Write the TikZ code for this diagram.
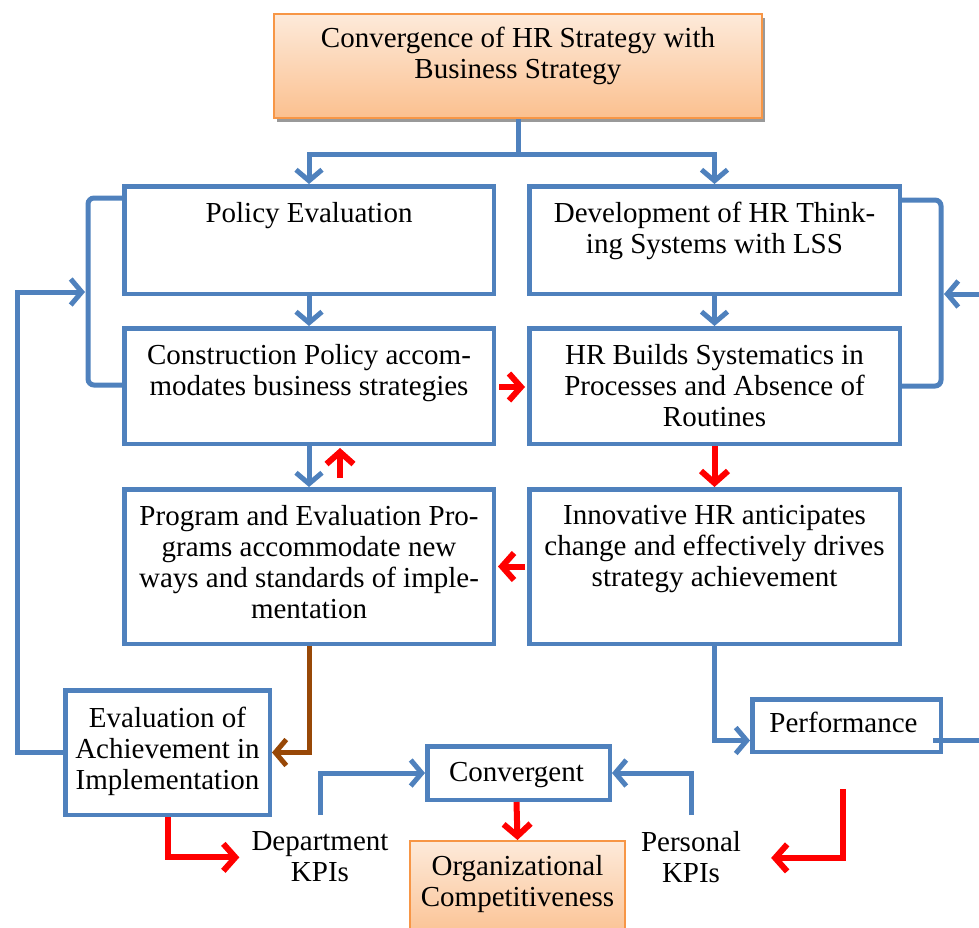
\documentclass[tikz,border=0pt]{standalone}
\usepackage{fontspec}
\setmainfont{Liberation Serif}
\usetikzlibrary{arrows.meta,calc,shadows}
\definecolor{bl}{HTML}{4F81BD}
\definecolor{orb}{HTML}{F79646}
\definecolor{ortop}{HTML}{FDEADA}
\definecolor{orbot}{HTML}{FBC08F}
\definecolor{brn}{HTML}{984807}
\begin{document}
\begin{tikzpicture}[x=1pt,y=-1pt,
  every node/.style={font=\fontsize{29}{31}\selectfont, align=center, text=black},
  box/.style={draw=bl, line width=4.5pt, anchor=north west, inner sep=0pt},
  obox/.style={draw=orb, line width=2pt, top color=ortop, bottom color=orbot, anchor=north west, inner sep=0pt},
  txt/.style={anchor=north, inner sep=0pt},
  blL/.style={draw=bl, line width=5pt},
  blA/.style={blL, -{Straight Barb[length=11pt,width=26pt]}},
  rdA/.style={draw=red, line width=6pt, -{Straight Barb[length=12pt,width=27pt]}},
  brA/.style={draw=brn, line width=5pt, -{Straight Barb[length=11pt,width=26pt]}}]
\useasboundingbox (0,0) rectangle (979,927);

% boxes
\node[obox, minimum width=488, minimum height=104,
  drop shadow={shadow xshift=3pt, shadow yshift=-4pt, fill=black!40, opacity=1}] (top) at (273,13) {};
\node[txt] (topT) at ($(top.north)+(0,14)$) {Convergence of HR Strategy with\\Business Strategy};

\node[box, minimum width=369.5, minimum height=107.5] (pe) at (122,184) {};
\node[txt] (peT) at ($(pe.north)+(0,18)$) {Policy Evaluation};

\node[box, minimum width=370.5, minimum height=107.5] (dev) at (527,184) {};
\node[txt] (devT) at ($(dev.north)+(0,18)$) {Development of HR Think-\\ing Systems with LSS};

\node[box, minimum width=369.5, minimum height=115.5] (cp) at (122,326) {};
\node[txt] (cpT) at ($(cp.north)+(0,18)$) {Construction Policy accom-\\modates business strategies};

\node[box, minimum width=370.5, minimum height=115.5] (hrb) at (527,326) {};
\node[txt] (hrbT) at ($(hrb.north)+(0,18)$) {HR Builds Systematics in\\Processes and Absence of\\Routines};

\node[box, minimum width=369.5, minimum height=154.5] (prog) at (122,487) {};
\node[txt] (progT) at ($(prog.north)+(0,18)$) {Program and Evaluation Pro-\\grams accommodate new\\ways and standards of imple-\\mentation};

\node[box, minimum width=370.5, minimum height=154.5] (inn) at (527,487) {};
\node[txt] (innT) at ($(inn.north)+(0,18)$) {Innovative HR anticipates\\change and effectively drives\\strategy achievement};

\node[box, minimum width=204.5, minimum height=124.5] (eval) at (63,688) {};
\node[txt] (evalT) at ($(eval.north)+(0,19)$) {Evaluation of\\Achievement in\\Implementation};

\node[box, minimum width=188.5, minimum height=52.5] (perf) at (750,697) {};
\node[txt] (perfT) at ($(perf.north)+(-3,15)$) {Performance};

\node[box, minimum width=182.5, minimum height=53.5] (conv) at (425,744) {};
\node[txt] (convT) at ($(conv.north)+(-2,18)$) {Convergent};

\node[obox, minimum width=215, minimum height=100] (org) at (409,840) {};
\node[txt] (orgT) at ($(org.north)+(0,15)$) {Organizational\\Competitiveness};

\node[txt, inner sep=3pt] (dept) at (320,828) {Department\\KPIs};
\node[txt, inner sep=3pt] (pers) at (691,828) {Personal\\KPIs};

% coordinates for free ends
\coordinate (lb) at (88,292);
\coordinate (lout) at (17,292);
\coordinate (rb) at (941,294);
\coordinate (rin) at (979,294);
\coordinate (rout) at (979,740.5);
\coordinate (dL) at (320,815);
\coordinate (dR) at (691,815);

% top split
\draw[blL] (top.south) -- ++(0,35) coordinate (split);
\draw[blA] (split) -| (pe.north);
\draw[blA] (split) -| (dev.north);

% vertical arrows
\draw[blA] (pe.south) -- (cp.north);
\draw[blA] (dev.south) -- (hrb.north);
\draw[blA] (cp.south) -- (prog.north);
\draw[rdA] ($(prog.north)+(31,-9)$) -- ($(cp.south)+(31,2)$);
\draw[rdA] ($(cp.east)+(3,1)$) -- ($(hrb.west)+(-2,1)$);
\draw[rdA] (hrb.south) -- (inn.north);
\draw[rdA] ($(inn.west)+(-2,0)$) -- ($(prog.east)+(2,0)$);

% brown
\draw[brA] (prog.south) |- (eval.east);

% performance
\draw[blA] (inn.south) |- ($(perf.west)+(0,15)$);
\draw[blL] ($(perf.east)+(-10,15)$) -- (rout);

% brackets
\draw[blL, rounded corners=6pt] ($(dev.north east)+(-2,16)$) -| (rb) |- ($(hrb.north east)+(-2,60)$);
\draw[blA] (rin) -- ($(rb)+(3,0)$);
\draw[blL, rounded corners=6pt] ($(pe.north west)+(2,14)$) -| (lb) |- ($(cp.north west)+(2,59)$);
\draw[blA] (eval.west) -| (lout) -- ($(lb)+(-3,0)$);

% convergent
\draw[blA] (dL) |- (conv.west);
\draw[blA] (dR) |- (conv.east);
\draw[rdA] ($(conv.south)+(-2,0)$) -- (org.north);

% KPIs
\draw[rdA] (eval.south) |- ($(dept.west)+(-9,1)$);
\draw[rdA] ($(perf.south)+(-4,35)$) |- ($(pers.east)+(27,1)$);
\end{tikzpicture}
\end{document}
